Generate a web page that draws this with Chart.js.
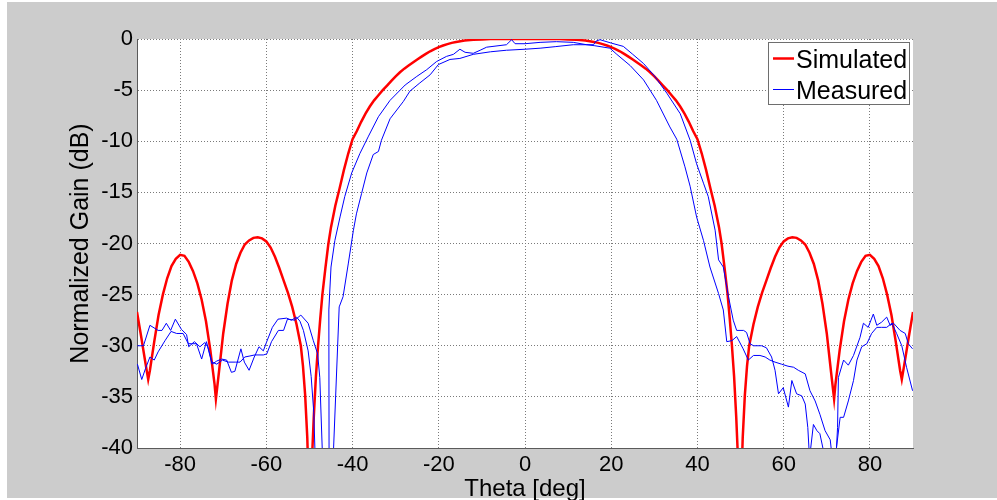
<!DOCTYPE html>
<html>
<head>
<meta charset="utf-8">
<title>Normalized Gain vs Theta</title>
<script src="https://cdn.jsdelivr.net/npm/chart.js@4.4.1/dist/chart.umd.min.js"></script>
<style>
  html, body { margin: 0; padding: 0; background: #ffffff; }
  #plot { display: block; }
</style>
</head>
<body>
<canvas id="plot" width="997" height="500"></canvas>
<script>
// Simulated pattern (deg, dB)
const simAngle = [
  -90, -89, -88, -87.4, -87, -86, -85, -84, -83, -82, -81, -80, -79, -78, -77, -76, -75, -74, -73, -72,
  -71.7, -71, -70, -69, -68, -67, -66, -65, -64, -63, -62, -61, -60, -59, -58, -57, -56, -55, -54, -53,
  -52, -51.5, -51, -50.5, -50, -49.5, -49, -48.5, -48, -47.5, -47, -46.3, -45.6, -45, -44, -43, -42, -41, -40, -39,
  -38, -37, -36, -35, -34, -33, -32, -31, -30, -29, -28, -27, -26, -25, -24, -23, -22, -21, -20, -19,
  -18, -17, -16, -15, -14, -12, -10, -8, -6, 0, 6, 8, 10, 12, 14, 15, 16, 17, 18, 19,
  20, 21, 22, 23, 24, 25, 26, 27, 28, 29, 30, 31, 32, 33, 34, 35, 36, 37, 38, 39,
  40, 41, 42, 43, 44, 45, 45.6, 46.3, 47, 47.5, 48, 48.5, 49, 49.5, 50, 50.5, 51, 51.5, 52, 53,
  54, 55, 56, 57, 58, 59, 60, 61, 62, 63, 64, 65, 66, 67, 68, 69, 70, 71, 71.7, 72,
  73, 74, 75, 76, 77, 78, 79, 80, 81, 82, 83, 84, 85, 86, 87, 87.4, 88, 89, 90
];
const simGain = [
  -26.7, -29.2, -31.8, -33.3, -32.4, -29.6, -27.0, -25.0, -23.4, -22.2, -21.5, -21.1, -21.2, -21.8, -22.7, -23.9, -25.5, -27.6, -30.4, -33.8,
  -35.2, -32.6, -28.8, -25.9, -23.6, -22.0, -20.9, -20.1, -19.7, -19.45, -19.4, -19.5, -19.8, -20.4, -21.3, -22.4, -23.6, -24.8, -26.2, -27.9,
  -30.0, -32.0, -34.8, -39.0, -46.0, -42.0, -37.0, -33.0, -30.0, -27.4, -25.0, -22.4, -20.0, -18.4, -16.3, -14.6, -12.8, -11.2, -9.8, -9.0,
  -8.1, -7.3, -6.6, -6.0, -5.5, -5.0, -4.55, -4.1, -3.65, -3.25, -2.9, -2.6, -2.3, -2.0, -1.72, -1.45, -1.2, -0.98, -0.8, -0.64,
  -0.5, -0.38, -0.3, -0.22, -0.15, -0.08, -0.04, -0.01, 0, 0, 0, -0.01, -0.04, -0.08, -0.15, -0.22, -0.3, -0.38, -0.5, -0.64,
  -0.8, -0.98, -1.2, -1.45, -1.72, -2.0, -2.3, -2.6, -2.9, -3.25, -3.65, -4.1, -4.55, -5.0, -5.5, -6.0, -6.6, -7.3, -8.1, -9.0,
  -9.8, -11.2, -12.8, -14.6, -16.3, -18.4, -20.0, -22.4, -25.0, -27.4, -30.0, -33.0, -37.0, -42.0, -46.0, -39.0, -34.8, -32.0, -30.0, -27.9,
  -26.2, -24.8, -23.6, -22.4, -21.3, -20.4, -19.8, -19.5, -19.4, -19.45, -19.7, -20.1, -20.9, -22.0, -23.6, -25.9, -28.8, -32.6, -35.2, -33.8,
  -30.4, -27.6, -25.5, -23.9, -22.7, -21.8, -21.2, -21.1, -21.5, -22.2, -23.4, -25.0, -27.0, -29.6, -32.4, -33.3, -31.8, -29.2, -26.7
];

// Measured pattern, first cut
const measAngleA = [
  -89.9, -88.5, -87.0, -85.1, -84.2, -83.2, -82.2, -81.1, -79.7, -78.5, -78.0, -76.7, -75.4, -74.3, -73.6, -72.6, -71.5, -70.4, -69.2, -68.1,
  -67.3, -65.9, -65.1, -64.0, -62.8, -61.7, -60.7, -60.0, -58.6, -57.3, -55.3, -54.2, -53.0, -52.2, -51.4, -50.3, -49.6, -49.0, -48.7, -47.8,
  -46.0, -45.45, -45.5, -45.0, -44.1, -42.9, -41.8, -40.2, -38.3, -36.3, -34.0, -31.3, -27.8, -25.1, -22.8, -20.5, -18.2, -16.6, -15.1, -13.9,
  -12.0, -10.4, -8.9, -4.3, -3.1, -2.3, 0.0, 3.5, 7.3, 11.2, 14.3, 16.2, 19.7, 21.3, 24.4, 27.5, 30.5, 33.6, 35.2, 37.1,
  38.3, 39.8, 41.4, 42.9, 44.9, 46.0, 46.8, 48.0, 49.1, 50.6, 51.8, 53.0, 54.5, 55.7, 56.8, 58.0, 59.5, 61.0, 62.3, 63.4,
  65.0, 66.1, 67.3, 68.4, 69.6, 70.8, 71.4, 72.0, 72.5, 72.7, 73.9, 75.0, 76.2, 77.7, 78.5, 79.6, 80.8, 81.6, 82.7, 83.9,
  84.7, 85.5, 87.0, 88.2, 88.9, 89.9
];
const measGainA = [
  -30.0, -30.0, -28.0, -28.5, -28.5, -27.8, -28.5, -27.4, -28.4, -28.9, -30.1, -29.6, -30.1, -29.7, -30.1, -31.8, -31.5, -31.3, -31.4, -32.6,
  -32.5, -30.3, -31.6, -32.4, -31.1, -30.1, -30.5, -29.7, -28.2, -27.4, -27.3, -27.5, -27.2, -27.6, -28.5, -30.5, -33.0, -36.5, -40.5, -45.0,
  -45.0, -40.0, -26.5, -22.3, -19.7, -17.4, -15.4, -13.1, -11.2, -9.5, -7.6, -6.0, -4.5, -3.66, -3.0, -2.2, -1.7, -1.5, -1.0, -1.3,
  -1.4, -1.1, -0.8, -0.56, -0.07, -0.46, -0.46, -0.33, -0.26, -0.33, -0.56, -0.66, -0.9, -1.5, -2.6, -4.0, -6.0, -8.6, -9.8, -12.5,
  -14.4, -17.4, -19.7, -22.3, -24.9, -26.5, -29.6, -29.5, -29.1, -30.3, -31.4, -30.95, -30.95, -31.1, -31.4, -31.6, -31.8, -32.0, -32.1, -32.4,
  -32.75, -34.4, -35.4, -36.7, -38.3, -39.2, -41.5, -42.0, -38.0, -33.1, -31.4, -31.9, -30.95, -29.2, -27.8, -28.2, -26.9, -28.0, -27.7, -27.2,
  -28.0, -27.8, -28.5, -28.8, -29.8, -30.3
];

// Measured pattern, second cut
const measAngleB = [
  -89.9, -88.9, -88.0, -87.0, -86.0, -85.1, -83.5, -82.1, -80.8, -79.3, -78.1, -77.4, -76.2, -75.0, -73.9, -72.6, -71.5, -70.2, -68.8, -67.2,
  -66.1, -65.0, -63.8, -62.7, -60.7, -59.9, -58.8, -57.2, -56.0, -55.1, -53.4, -52.0, -50.3, -49.1, -48.1, -47.6, -47.0, -46.4, -45.2, -44.4,
  -43.1, -42.2, -41.0, -39.8, -39.1, -37.9, -36.7, -35.2, -34.0, -33.3, -31.3, -28.2, -26.7, -24.4, -22.0, -20.1, -17.4, -15.1, -12.0, -8.0,
  -4.3, 0.0, 3.5, 7.0, 11.2, 15.9, 16.5, 17.4, 20.0, 22.8, 25.0, 27.5, 30.0, 32.9, 36.0, 38.3, 39.8, 41.4, 42.5, 44.1,
  44.9, 46.0, 47.2, 48.3, 49.1, 50.7, 51.4, 52.2, 53.0, 54.9, 56.0, 57.2, 58.0, 58.8, 59.9, 61.1, 61.9, 63.0, 64.2, 65.0,
  65.6, 66.0, 66.9, 67.7, 68.4, 69.6, 70.5, 71.5, 72.1, 73.1, 73.9, 75.0, 76.2, 77.0, 78.1, 79.3, 80.4, 81.6, 82.7, 83.9,
  85.1, 86.2, 87.4, 88.5, 89.9
];
const measGainB = [
  -31.8, -33.3, -32.2, -31.1, -31.4, -30.6, -29.5, -28.6, -28.8, -28.8, -29.8, -29.8, -29.8, -31.3, -29.6, -31.6, -31.8, -31.4, -31.6, -31.6,
  -31.6, -31.1, -31.0, -30.9, -30.9, -30.8, -29.6, -28.5, -28.5, -27.4, -27.5, -27.0, -27.8, -29.5, -30.8, -33.1, -40.5, -45.0, -45.0, -40.0,
  -26.2, -25.2, -22.0, -18.7, -17.1, -15.1, -13.1, -11.3, -11.0, -9.9, -7.8, -6.1, -5.1, -4.3, -3.5, -2.5, -2.0, -1.9, -1.5, -1.25,
  -1.1, -1.0, -0.9, -0.75, -0.56, -0.56, -0.2, -0.07, -0.4, -0.72, -1.5, -2.4, -3.6, -5.3, -7.3, -9.9, -12.2, -14.1, -15.4, -18.7,
  -21.6, -22.3, -25.2, -27.5, -28.5, -28.5, -28.7, -29.8, -30.0, -30.0, -30.2, -31.1, -32.4, -34.7, -34.1, -36.0, -33.4, -34.7, -34.9, -35.7,
  -38.0, -41.0, -37.7, -38.3, -38.6, -41.0, -44.0, -44.0, -40.5, -37.0, -37.0, -35.4, -33.4, -31.4, -30.1, -29.8, -28.8, -28.2, -28.2, -28.2,
  -27.8, -28.8, -30.0, -32.1, -34.4
];

const xTickValues = [-80, -60, -40, -20, 0, 20, 40, 60, 80];
const yTickValues = [-40, -35, -30, -25, -20, -15, -10, -5, 0];

const FONT = '"Liberation Sans", Arial, sans-serif';

function toPoints(xs, ys) {
  return xs.map((x, i) => ({ x: x, y: ys[i] }));
}

// grey figure background + white axes box
const backdrop = {
  id: 'backdrop',
  beforeDraw(chart) {
    const ctx = chart.ctx;
    const a = chart.chartArea;
    ctx.save();
    ctx.fillStyle = '#ffffff';
    ctx.fillRect(0, 0, chart.width, chart.height);
    ctx.fillStyle = '#cccccc';
    ctx.fillRect(7, 2, chart.width - 7, chart.height - 4);
    ctx.fillStyle = '#ffffff';
    ctx.fillRect(a.left, a.top, a.right - a.left, a.bottom - a.top);
    ctx.restore();
  }
};

// boxed legend in the upper right corner of the axes
const boxLegend = {
  id: 'boxLegend',
  afterDraw(chart) {
    const ctx = chart.ctx;
    const seen = new Set();
    const items = chart.data.datasets.filter(ds => {
      if (seen.has(ds.label)) return false;
      seen.add(ds.label);
      return true;
    });
    const box = { x: 768.5, y: 42.5, w: 141, h: 62 };
    ctx.save();
    ctx.fillStyle = '#ffffff';
    ctx.fillRect(box.x, box.y, box.w, box.h);
    ctx.strokeStyle = '#6e6e6e';
    ctx.lineWidth = 1;
    ctx.strokeRect(box.x, box.y, box.w, box.h);
    ctx.font = '25px ' + FONT;
    ctx.fillStyle = '#000000';
    ctx.textBaseline = 'alphabetic';
    items.forEach((ds, i) => {
      const rowY = 58.5 + i * 31;
      ctx.strokeStyle = ds.borderColor;
      ctx.lineWidth = ds.borderWidth;
      ctx.beginPath();
      ctx.moveTo(773, rowY);
      ctx.lineTo(794, rowY);
      ctx.stroke();
      ctx.fillText(ds.label, 796, rowY + 9.8);
    });
    ctx.restore();
  }
};

const chart = new Chart(document.getElementById('plot'), {
  type: 'line',
  data: {
    datasets: [
      {
        label: 'Simulated',
        data: toPoints(simAngle, simGain),
        borderColor: '#ff0000',
        borderWidth: 2.5,
        pointRadius: 0,
        tension: 0,
        order: 2
      },
      {
        label: 'Measured',
        data: toPoints(measAngleA, measGainA),
        borderColor: '#0000ff',
        borderWidth: 1,
        pointRadius: 0,
        tension: 0,
        order: 1
      },
      {
        label: 'Measured',
        data: toPoints(measAngleB, measGainB),
        borderColor: '#0000ff',
        borderWidth: 1,
        pointRadius: 0,
        tension: 0,
        order: 1
      }
    ]
  },
  options: {
    responsive: false,
    devicePixelRatio: 1,
    animation: false,
    events: [],
    layout: { padding: { top: 39, right: 84, bottom: 0, left: 0 } },
    plugins: {
      legend: { display: false },
      tooltip: { enabled: false }
    },
    scales: {
      x: {
        type: 'linear',
        min: -90,
        max: 90,
        afterBuildTicks: scale => { scale.ticks = xTickValues.map(v => ({ value: v })); },
        afterFit: scale => { scale.height = 52; },
        grid: {
          color: '#7a7a7a',
          lineWidth: 1,
          drawTicks: false
        },
        border: { display: true, color: '#5a5a5a', width: 1, dash: [1, 2] },
        ticks: {
          padding: 4,
          color: '#000000',
          font: { family: FONT, size: 22 },
          maxRotation: 0
        },
        title: {
          display: true,
          text: 'Theta [deg]',
          color: '#000000',
          font: { family: FONT, size: 24, lineHeight: 0.9 },
          padding: 0
        }
      },
      y: {
        type: 'linear',
        min: -40,
        max: 0,
        afterBuildTicks: scale => { scale.ticks = yTickValues.map(v => ({ value: v })); },
        afterFit: scale => { scale.width = 137; },
        grid: {
          color: '#7a7a7a',
          lineWidth: 1,
          drawTicks: false
        },
        border: { display: true, color: '#5a5a5a', width: 1, dash: [1, 2] },
        ticks: {
          padding: 4,
          color: '#000000',
          font: { family: FONT, size: 22 }
        },
        title: {
          display: true,
          text: 'Normalized Gain (dB)',
          color: '#000000',
          font: { family: FONT, size: 25, lineHeight: 1 },
          padding: { top: 69, bottom: 0 }
        }
      }
    }
  },
  plugins: [backdrop, boxLegend]
});
</script>
</body>
</html>
